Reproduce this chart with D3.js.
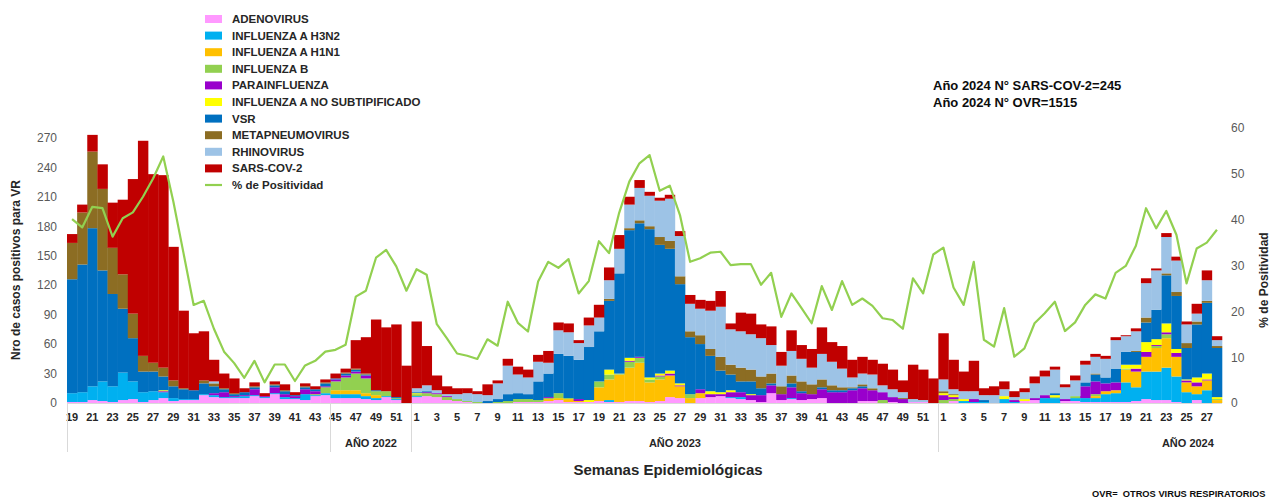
<!DOCTYPE html>
<html><head><meta charset="utf-8">
<script src="https://cdn.jsdelivr.net/npm/d3@7"></script>
<style>
html,body{margin:0;padding:0;background:#fff;}
svg{display:block;font-family:"Liberation Sans",Arial,sans-serif;}
</style></head>
<body><svg id="c" width="1272" height="500"></svg>
<script>
// ---- DATA ----
const weeks = [19,20,21,22,23,24,25,26,27,28,29,30,31,32,33,34,35,36,37,38,39,40,41,42,43,44,45,46,47,48,49,50,51,52,
 1,2,3,4,5,6,7,8,9,10,11,12,13,14,15,16,17,18,19,20,21,22,23,24,25,26,27,28,29,30,31,32,33,34,35,36,37,38,39,40,41,42,43,44,45,46,47,48,49,50,51,52,
 1,2,3,4,5,6,7,8,9,10,11,12,13,14,15,16,17,18,19,20,21,22,23,24,25,26,27,28];
const yearLabels = ["", "AÑO 2022", "AÑO 2023", "AÑO 2024"];
const yearStart = [0, 26, 34, 86];
const yearEnd = [25, 33, 85, 113];

const adenovirus   = [1,1,3,2,1,3,4,1,3,5,2,3,3,8,6,5,5,5,7,5,9,4,4,3,7,8,5,5,5,4,3,6,3,0,
 6,7,6,3,2,1,0,0,0,0,1,1,1,2,3,1,1,1,2,1,1,2,2,1,2,6,5,0,5,6,7,5,4,3,1,10,3,4,3,4,5,0,0,0,2,2,0,1,0,1,1,0,
 0,2,0,0,0,0,0,0,2,3,0,0,2,2,1,1,1,1,1,2,4,3,3,1,0,3,0,0];
const h3n2         = [9,10,14,20,16,28,18,10,9,6,3,1,1,1,2,1,1,2,1,1,1,2,1,6,1,2,4,4,4,3,2,1,1,0,
 1,0,0,0,0,0,0,0,0,0,0,0,0,0,0,0,0,0,0,2,0,0,0,0,0,0,0,0,0,0,0,1,2,0,0,0,0,1,0,0,0,0,0,0,0,0,0,0,0,0,0,0,
 0,0,2,1,1,0,4,1,0,0,5,5,0,3,4,4,8,9,20,14,28,29,33,26,11,6,13,0];
const h1n1         = [0,0,0,0,0,0,0,0,0,0,0,0,0,0,0,0,0,0,0,0,0,0,0,0,0,0,4,4,4,3,3,0,0,0,
 0,0,0,0,0,0,0,0,0,0,0,0,0,2,2,3,1,0,14,21,28,34,39,20,22,22,12,5,5,0,0,0,0,0,0,0,0,0,0,0,0,0,0,0,0,0,0,0,0,0,0,0,
 0,0,0,0,0,0,0,0,0,0,0,0,0,0,0,2,3,3,13,16,15,24,30,20,10,8,10,3];
const influenzaB   = [0,0,0,0,0,0,0,0,0,0,0,0,0,0,0,0,0,0,0,0,0,0,0,0,1,6,9,13,17,15,4,5,1,0,
 2,3,3,3,2,1,1,0,1,2,3,3,2,1,5,1,0,0,6,5,1,6,5,3,3,0,0,4,0,0,0,0,0,0,0,0,0,0,0,0,0,0,0,0,0,0,3,0,0,0,0,0,
 3,2,0,0,0,0,0,0,0,0,0,1,0,2,0,2,0,0,1,0,0,2,4,0,0,0,0,1];
const parainfluenza= [0,0,0,0,0,0,0,0,0,1,0,0,0,0,2,5,1,1,6,1,6,3,2,5,3,1,2,2,2,3,0,0,0,0,
 0,1,1,1,0,0,0,0,0,0,0,0,0,1,0,0,2,0,0,0,0,1,1,0,1,2,1,0,4,3,2,5,5,5,7,8,6,11,7,5,9,11,11,13,13,11,8,5,4,0,0,0,
 5,2,0,3,0,0,0,2,0,2,3,0,2,0,12,13,8,8,0,3,5,1,2,4,2,4,1,0];
const fluANS       = [0,0,0,0,0,0,0,0,0,1,0,0,0,0,0,0,0,0,0,0,0,0,0,0,0,0,0,0,0,0,0,0,0,0,
 1,0,0,0,0,0,0,0,0,0,0,0,0,0,0,0,0,2,0,5,0,3,0,2,2,3,2,0,0,3,2,2,0,1,0,0,0,0,0,0,0,0,0,0,0,0,0,0,0,0,0,0,
 2,2,2,0,0,0,3,0,2,0,0,2,0,0,0,0,0,0,4,4,10,6,9,4,1,5,6,2];
const vsr          = [116,130,161,113,94,65,44,21,20,14,12,10,9,11,7,3,2,3,2,0,2,3,1,2,2,3,1,2,2,1,1,0,1,0,
 1,1,0,0,0,0,0,2,3,7,6,5,19,24,40,43,40,54,51,70,102,130,136,151,131,124,101,58,46,36,22,16,11,13,7,2,0,4,2,0,2,2,2,2,2,0,0,0,0,0,0,0,
 0,0,0,0,2,0,0,0,0,0,0,2,0,0,4,7,6,14,13,13,20,30,49,54,32,54,72,50];
const metapneumo   = [37,53,78,83,47,35,25,16,9,9,6,1,0,3,3,1,1,0,1,0,1,1,0,1,0,1,0,1,1,1,0,0,0,0,
 0,0,0,0,0,0,0,0,0,0,0,0,0,0,0,0,0,0,0,2,0,2,3,3,8,8,8,6,9,7,14,10,14,12,12,10,8,8,10,10,8,5,3,1,2,2,0,0,1,0,0,0,
 2,1,0,0,0,0,0,0,0,0,0,0,0,0,0,1,0,0,0,1,5,0,2,4,5,3,2,2];
const rhinovirus   = [0,0,0,0,0,0,0,0,0,0,0,0,0,0,2,0,0,0,0,0,0,0,0,0,0,0,0,0,0,0,0,0,0,0,
 4,6,3,2,5,8,8,6,16,29,19,17,20,11,24,24,17,22,14,19,25,24,33,31,37,43,41,28,27,39,51,36,37,36,39,29,21,25,23,17,26,24,19,10,11,14,7,8,6,3,2,0,
 12,5,8,8,5,8,7,3,7,15,19,24,12,16,18,17,19,29,16,20,35,40,37,32,19,8,21,6];
const sarsCov2     = [9,8,17,25,46,76,137,219,192,196,136,79,58,50,22,15,15,4,4,3,3,6,3,3,3,3,5,4,29,37,72,65,74,38,
 68,40,15,8,6,5,3,11,3,7,8,8,7,12,8,9,3,8,13,13,14,8,8,4,3,4,5,9,9,10,16,6,19,21,14,19,14,21,14,19,27,20,23,18,17,15,22,20,12,35,31,25,
 47,30,20,31,7,9,8,6,4,7,6,3,3,5,4,3,3,3,1,3,5,2,4,4,3,10,10,4];
const positividad  = [40.1,38.3,42.8,42.5,36.3,40.3,41.6,45.0,49.0,53.8,43.9,32.7,21.4,22.3,16.2,11.2,8.7,5.5,9.2,4.5,8.4,8.4,4.8,8.2,9.2,11.2,11.6,12.7,23.2,24.5,31.7,33.4,29.8,24.5,
 29.2,28.0,17.2,14.1,10.8,10.3,9.6,13.9,12.5,22.1,17.5,15.6,26.5,30.8,29.5,31.4,23.9,26.6,35.3,32.7,41.5,48.3,52.3,54.1,46.3,47.4,41.0,30.8,31.6,32.8,33.0,30.1,30.3,30.3,25.8,28.4,18.8,23.9,20.7,17.4,25.5,20.3,26.6,21.4,22.8,21.2,18.5,18.1,16.2,27.2,23.9,32.4,
 33.9,25.2,21.4,30.8,13.8,12.3,20.7,10.1,11.9,17.4,19.6,22.1,15.7,17.6,21.4,23.7,22.8,28.4,29.9,34.3,42.5,38.1,41.9,36.7,26.1,33.7,35.0,37.8];

const seriesNames = ["ADENOVIRUS","INFLUENZA A H3N2","INFLUENZA A H1N1","INFLUENZA B","PARAINFLUENZA","INFLUENZA A NO SUBTIPIFICADO","VSR","METAPNEUMOVIRUS","RHINOVIRUS","SARS-COV-2"];
const seriesData = [adenovirus,h3n2,h1n1,influenzaB,parainfluenza,fluANS,vsr,metapneumo,rhinovirus,sarsCov2];
const seriesColors = ["#FF99FF","#00B0F0","#FFC000","#92D050","#9900CC","#FFFF00","#0070C0","#8C6D23","#9DC3E6","#C00000"];
const lineName = "% de Positividad";
const lineColor = "#92D050";
const leftTicks = [0,30,60,90,120,150,180,210,240,270];
const rightTicks = [0,10,20,30,40,50,60];

// ---- CHART ----
const svg = d3.select("#c");
const plotL = 67, plotR = 1222, plotT = 128, plotB = 403;
const idx = d3.range(weeks.length);
const x = d3.scaleBand().domain(idx).range([plotL, plotR]).paddingInner(0).paddingOuter(0);
const y = d3.scaleLinear().domain([0, 280]).range([plotB, plotT]);
const y2 = d3.scaleLinear().domain([0, 60]).range([plotB, plotT]);

const rows = idx.map(i => { const r = {i}; seriesNames.forEach((n,k)=> r[n] = seriesData[k][i]); return r; });
const stack = d3.stack().keys(seriesNames)(rows);

const g = svg.append("g");
stack.forEach((layer,k) => {
  g.append("g").attr("fill", seriesColors[k])
   .selectAll("rect").data(layer).join("rect")
   .attr("x", d => x(d.data.i))
   .attr("width", x.bandwidth()+0.3)
   .attr("y", d => y(d[1]))
   .attr("height", d => Math.max(0, y(d[0]) - y(d[1])));
});

// baseline
svg.append("line").attr("x1", plotL).attr("x2", plotR).attr("y1", plotB+0.5).attr("y2", plotB+0.5)
  .attr("stroke", "#d9d9d9").attr("stroke-width", 1);

// line
const line = d3.line().x((d,i) => x(i) + x.bandwidth()/2).y(d => y2(d));
svg.append("path").datum(positividad).attr("d", line).attr("fill","none")
  .attr("stroke", lineColor).attr("stroke-width", 2.2).attr("stroke-linejoin","round");

// left axis
const yAxis = d3.axisLeft(y).tickValues(leftTicks).tickSize(0).tickPadding(10);
const ya = svg.append("g").attr("transform", `translate(${plotL},0)`).call(yAxis);
ya.select(".domain").remove();
ya.selectAll("text").attr("font-size", 12).attr("fill", "#595959").attr("font-family","Liberation Sans, Arial, sans-serif");

// right axis
const y2Axis = d3.axisRight(y2).tickValues(rightTicks).tickSize(0).tickPadding(9);
const ya2 = svg.append("g").attr("transform", `translate(${plotR},0)`).call(y2Axis);
ya2.select(".domain").remove();
ya2.selectAll("text").attr("font-size", 12).attr("fill", "#595959").attr("font-family","Liberation Sans, Arial, sans-serif");

// x axis tick labels (every other week)
const xAxis = d3.axisBottom(x).tickValues(idx.filter(i => weeks[i] % 2 === 1)).tickFormat(i => weeks[i]).tickSize(0).tickPadding(10);
const xa = svg.append("g").attr("transform", `translate(0,${plotB})`).call(xAxis);
xa.select(".domain").remove();
xa.selectAll("text").attr("font-size", 11).attr("font-weight","bold").attr("fill","#262626").attr("font-family","Liberation Sans, Arial, sans-serif");

// year separators & labels
yearStart.forEach((s,k) => {
  const sx = Math.round(x(s)) + 0.5;
  svg.append("line").attr("x1", sx).attr("x2", sx).attr("y1", plotB).attr("y2", 452)
    .attr("stroke", "#d9d9d9").attr("stroke-width", 1);
  if (yearLabels[k]) {
    const last = k === yearLabels.length - 1;
    const cx = last ? x(yearEnd[k]) - 24 : (x(s) + x(yearEnd[k]) + x.bandwidth())/2;
    svg.append("text").attr("x", cx).attr("y", 447).attr("text-anchor","middle")
      .attr("font-size", 11).attr("font-weight","bold").attr("fill","#262626").text(yearLabels[k]);
  }
});

// axis titles
svg.append("text").attr("transform","translate(20,270) rotate(-90)").attr("text-anchor","middle")
  .attr("font-size",12).attr("font-weight","bold").attr("fill","#262626").text("Nro de casos positivos para VR");
svg.append("text").attr("transform","translate(1268,280) rotate(-90)").attr("text-anchor","middle")
  .attr("font-size",12).attr("font-weight","bold").attr("fill","#262626").text("% de Positividad");
svg.append("text").attr("x",668).attr("y",475).attr("text-anchor","middle")
  .attr("font-size",15).attr("font-weight","bold").attr("fill","#262626").text("Semanas Epidemiológicas");

// legend
const lg = svg.append("g");
seriesNames.forEach((n,k) => {
  const cy = 19 + k*16.6;
  lg.append("rect").attr("x",205).attr("y",cy-4).attr("width",17).attr("height",8).attr("fill",seriesColors[k]);
  lg.append("text").attr("x",232).attr("y",cy+4).attr("font-size",11.5).attr("font-weight","bold").attr("fill","#262626").text(n);
});
{
  const cy = 19 + seriesNames.length*16.6;
  lg.append("line").attr("x1",205).attr("x2",222).attr("y1",cy).attr("y2",cy).attr("stroke",lineColor).attr("stroke-width",2.2);
  lg.append("text").attr("x",232).attr("y",cy+4).attr("font-size",11.5).attr("font-weight","bold").attr("fill","#262626").text(lineName);
}

// annotations
svg.append("text").attr("x",933).attr("y",90).attr("font-size",13).attr("font-weight","bold").attr("fill","#0d0d0d").text("Año 2024 N° SARS-COV-2=245");
svg.append("text").attr("x",933).attr("y",107).attr("font-size",13).attr("font-weight","bold").attr("fill","#0d0d0d").text("Año 2024 N° OVR=1515");
svg.append("text").attr("x",1092).attr("y",497).attr("font-size",9.3).attr("font-weight","bold").attr("fill","#0d0d0d")
  .style("white-space","pre").text("OVR=  OTROS VIRUS RESPIRATORIOS");
</script>
</body></html>
